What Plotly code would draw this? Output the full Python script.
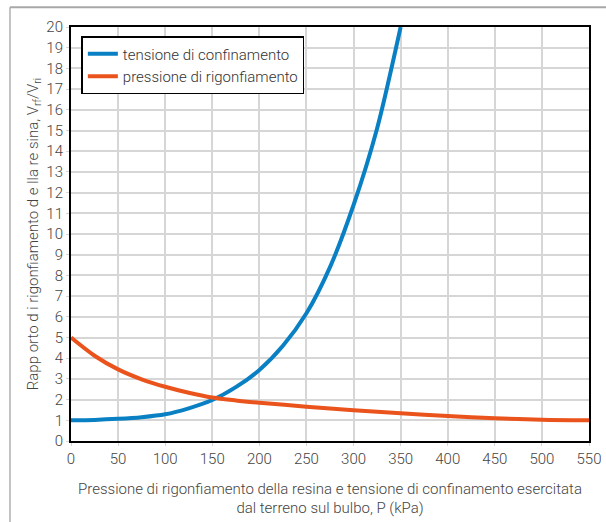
import plotly.graph_objects as go

# Data
p_conf = [0, 25, 50, 75, 100, 125, 150, 175, 200, 225, 250, 275, 300, 325, 350]
v_conf = [1.0, 1.02, 1.07, 1.15, 1.29, 1.58, 1.98, 2.6, 3.43, 4.6, 6.17, 8.4, 11.4, 15.1, 20.0]

p_swell = [0, 25, 50, 75, 100, 125, 150, 175, 200, 250, 300, 350, 400, 450, 500, 550]
v_swell = [5.0, 4.12, 3.46, 2.98, 2.62, 2.33, 2.1, 1.96, 1.85, 1.66, 1.48, 1.34, 1.21, 1.1, 1.03, 1.0]

name_conf = "tensione di confinamento"
name_swell = "pressione di rigonfiamento"

x_ticks = list(range(0, 551, 50))
y_ticks = list(range(0, 21, 1))

FONT = "Roboto"
TXT = "#444444"

fig = go.Figure()
fig.add_trace(go.Scatter(x=p_conf, y=v_conf, mode="lines", name=name_conf,
                         line=dict(color="#0a80c4", width=4, shape="spline", smoothing=0.8)))
fig.add_trace(go.Scatter(x=p_swell, y=v_swell, mode="lines", name=name_swell,
                         line=dict(color="#ea541c", width=4, shape="spline", smoothing=0.8)))

fig.update_layout(
    width=606, height=522,
    margin=dict(l=71, r=17, t=27, b=81, autoexpand=False),
    paper_bgcolor="white", plot_bgcolor="white",
    font=dict(family=FONT, size=15, color=TXT, weight=300),
    showlegend=True,
    legend=dict(x=0.02, y=0.978, xanchor="left", yanchor="top",
                bgcolor="white", bordercolor="black", borderwidth=1.5,
                font=dict(family=FONT, size=15, color="#333333", weight=300),
                tracegroupgap=0, itemwidth=30),
    xaxis=dict(range=[0, 550], tickvals=x_ticks, ticktext=[str(v) for v in x_ticks],
               automargin=False,
               showgrid=True, gridcolor="#d6d6d6", gridwidth=1.5,
               showline=True, linecolor="black", linewidth=2, mirror=True,
               ticks="outside", ticklen=3, tickcolor="#d6d6d6",
               tickfont=dict(family=FONT, size=15, color=TXT, weight=300),
               zeroline=False,
               title=dict(text="Pressione di rigonfiamento della resina e tensione di confinamento esercitata<br>dal terreno sul bulbo, P (kPa)",
                          font=dict(family=FONT, size=15, color=TXT, weight=300), standoff=16)),
    yaxis=dict(range=[0, 20], tickvals=y_ticks, ticktext=[str(v) for v in y_ticks],
               automargin=False,
               showgrid=True, gridcolor="#d6d6d6", gridwidth=1.5,
               showline=True, linecolor="black", linewidth=2, mirror=True,
               ticks="outside", ticklen=3, tickcolor="#d6d6d6",
               tickfont=dict(family=FONT, size=15, color=TXT, weight=300),
               zeroline=False,
               title=dict(text="Rapp orto d i rigonfiamento d e lla re sina, V<sub>rf</sub>/V<sub>ri</sub>",
                          font=dict(family=FONT, size=15, color=TXT, weight=300), standoff=4)),
)

# card frame (top and left edges)
fig.add_shape(type="line", xref="paper", yref="paper", x0=-0.1178, x1=1.04, y0=1.048, y1=1.048,
              line=dict(color="#a8a8a8", width=2), layer="above")
fig.add_shape(type="line", xref="paper", yref="paper", x0=-0.1178, x1=-0.1178, y0=1.048, y1=-0.2,
              line=dict(color="#b0b0b0", width=1.5), layer="below")

# remove the browser's default body margin so the figure sits at the page origin
fig.write_html("out.html", config={"displayModeBar": False},
               post_script="document.body.style.margin='0px';document.body.style.overflow='hidden';")
